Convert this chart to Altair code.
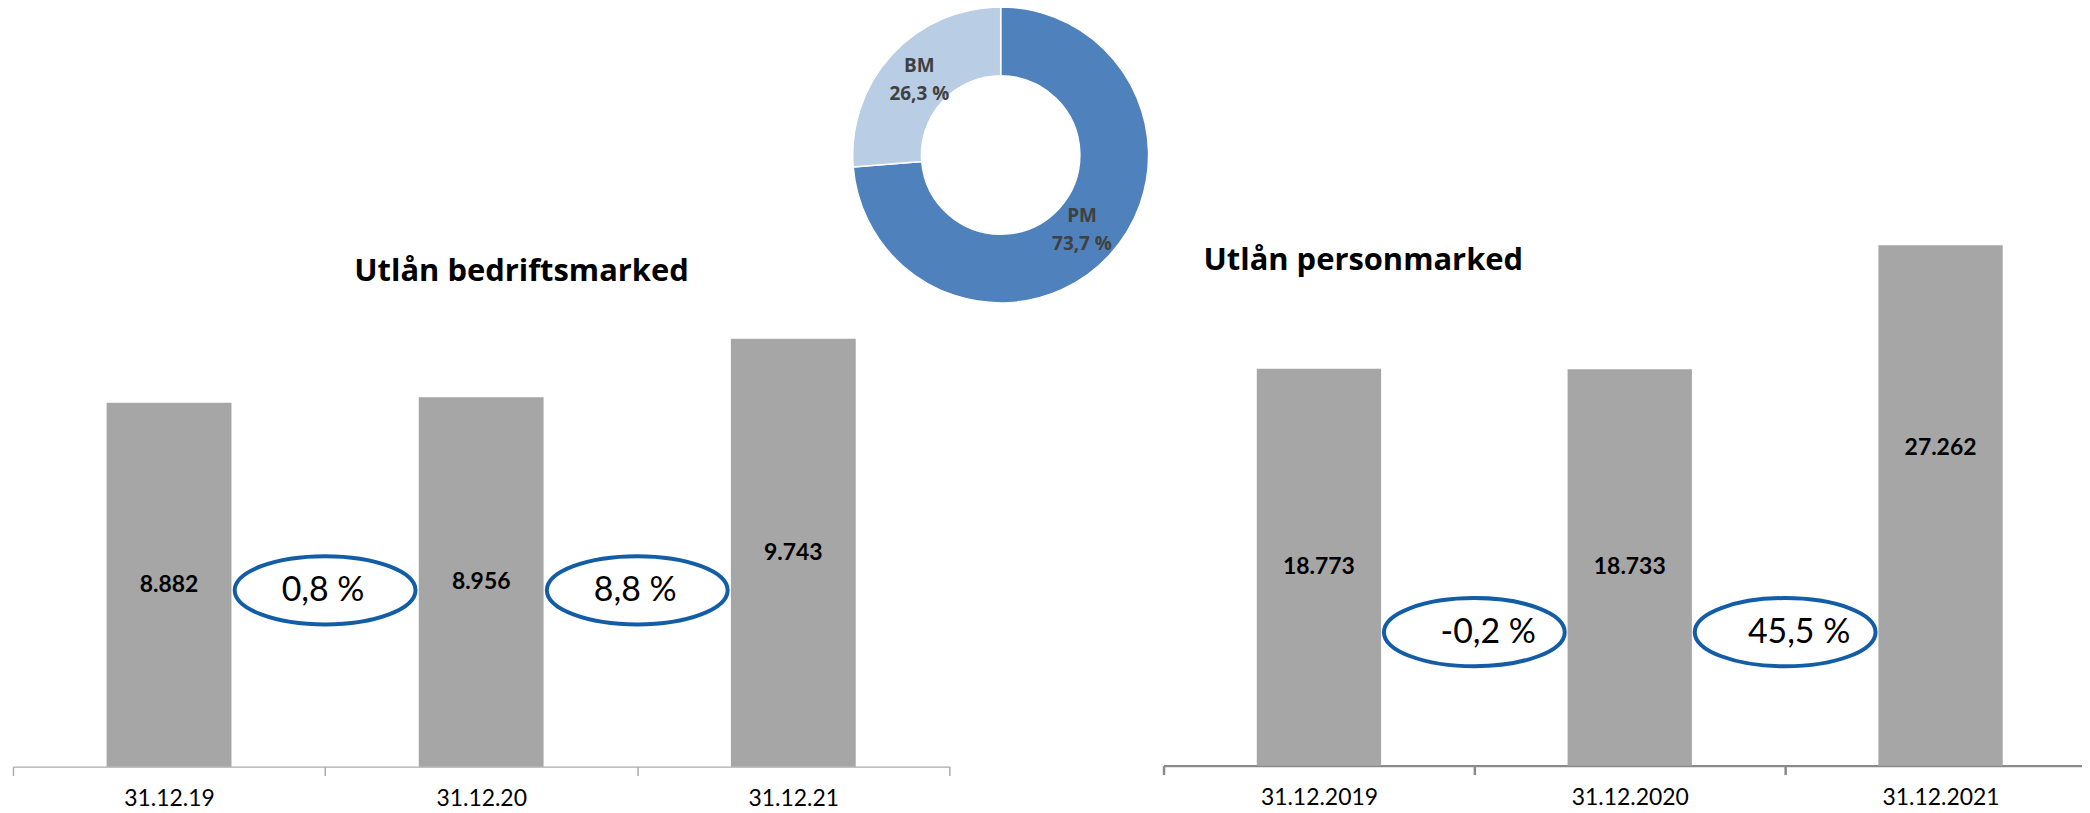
import altair as alt
import pandas as pd

# ---------------- data ----------------
bm_dates = ["31.12.19", "31.12.20", "31.12.21"]
bm_values = [8882, 8956, 9743]
bm_labels = ["8.882", "8.956", "9.743"]
bm_change = ["0,8 %", "8,8 %"]

pm_dates = ["31.12.2019", "31.12.2020", "31.12.2021"]
pm_values = [18773, 18733, 27262]
pm_labels = ["18.773", "18.733", "27.262"]
pm_change = ["-0,2 %", "45,5 %"]

share_names = ["PM", "BM"]
share_values = [73.7, 26.3]
share_labels = ["PM\n73,7 %", "BM\n26,3 %"]

titles = ["Utlån bedriftsmarked", "Utlån personmarked"]

# ---------------- style / layout ----------------
W, H = 2082, 805
BAR = "#A6A6A6"
BLUE = "#135DA6"
PM_C = "#4F81BD"
BM_C = "#B9CDE5"
ELLIPSE = "M -1 0 A 1 0.377 0 1 1 1 0 A 1 0.377 0 1 1 -1 0 Z"
ELL_SIZE = 181.5 ** 2


def panel(dates, values, labels, changes, x_range, y_domain, y_range,
          axis_off, dom_color, dom_width, tick_size, ell_y, txt_dx, shifts):
    df = pd.DataFrame({"date": dates, "value": values, "label": labels,
                       "idx": list(range(len(dates)))})
    cf = pd.DataFrame({"date": dates[:-1], "change": changes})
    xscale = alt.Scale(domain=dates, range=x_range, paddingInner=0, paddingOuter=0)
    xaxis = alt.Axis(title=None, orient="bottom", offset=axis_off, labelAngle=0,
                     tickBand="extent", domainColor=dom_color, domainWidth=dom_width,
                     tickColor=dom_color, tickWidth=dom_width, tickSize=tick_size,
                     labelFont="Lato", labelFontSize=23, labelColor="#000000",
                     labelBaseline="alphabetic", labelPadding=30,
                     grid=False)
    X = alt.X("date:N", scale=xscale, axis=xaxis)
    Xb = alt.X("date:N", scale=xscale, axis=xaxis, bandPosition=1)
    yscale = alt.Scale(domain=y_domain, range=y_range, zero=False, nice=False)

    base = alt.Chart(df)
    bars = base.mark_bar(color=BAR, width={"band": 0.4}).encode(
        x=X,
        y=alt.Y("value:Q", scale=yscale, axis=None),
        y2=alt.datum(y_domain[0]),
    )
    layers = [bars]
    shift_idx = list(shifts.keys())
    cond = " && ".join([f"datum.idx != {i}" for i in shift_idx]) or "true"
    lab = base.transform_calculate(mid=f"(datum.value + {y_domain[0]}) / 2").transform_filter(cond).mark_text(
        font="Lato", fontWeight="bold", fontSize=23, color="#000000", baseline="middle"
    ).encode(x=X, y=alt.Y("mid:Q", scale=yscale, axis=None), text="label:N")
    layers.append(lab)
    for i, dy in shifts.items():
        layers.append(
            base.transform_calculate(mid=f"(datum.value + {y_domain[0]}) / 2")
            .transform_filter(f"datum.idx == {i}")
            .mark_text(font="Lato", fontWeight="bold", fontSize=23, color="#000000",
                       baseline="middle", dy=dy)
            .encode(x=X, y=alt.Y("mid:Q", scale=yscale, axis=None), text="label:N")
        )
    ell = alt.Chart(cf).mark_point(shape=ELLIPSE, size=ELL_SIZE, filled=False, color=BLUE,
                                   strokeWidth=4, opacity=1).encode(x=Xb, y=alt.value(ell_y))
    etext = alt.Chart(cf).mark_text(font="Lato", fontSize=34, color="#000000", dx=txt_dx,
                                    baseline="middle").encode(x=Xb, y=alt.value(ell_y + 1),
                                                              text="change:N")
    layers += [ell, etext]
    return alt.layer(*layers)


left = panel(bm_dates, bm_values, bm_labels, bm_change,
             x_range=[5, 945], y_domain=[4000, 10000], y_range=[760, 311.2],
             axis_off=760 - H, dom_color="#ABABAB", dom_width=1.5, tick_size=9,
             ell_y=583, txt_dx=-2, shifts={})

right = panel(pm_dates, pm_values, pm_labels, pm_change,
              x_range=[1160, 2096], y_domain=[-8500, 30000], y_range=[759, 196.6],
              axis_off=759 - H, dom_color="#8A8A8A", dom_width=2.5, tick_size=9,
              ell_y=625, txt_dx=14, shifts={2: -58})

# donut
CX, CY = 996.5, 146
ddf = pd.DataFrame({"name": share_names, "share": share_values,
                    "label": share_labels, "idx": [0, 1]})
dbase = alt.Chart(ddf).encode(
    theta=alt.Theta("share:Q", stack=True),
    order=alt.Order("idx:Q"),
    x=alt.value(CX), y=alt.value(CY),
)
arc = dbase.mark_arc(innerRadius=79.5, outerRadius=148.5, stroke="white", strokeWidth=1.5).encode(
    color=alt.Color("name:N", scale=alt.Scale(domain=share_names, range=[PM_C, BM_C]), legend=None)
)
dtext = dbase.mark_text(radius=111, font="Open Sans", fontWeight="bold", fontSize=19, lineBreak="\n",
                        lineHeight=28, baseline="middle", align="center", dy=-14,
                        color="#404040").encode(
    text="label:N", detail="name:N"
)
donut = alt.layer(arc, dtext)

t1 = alt.Chart(pd.DataFrame({"t": [titles[0]]})).mark_text(
    font="Open Sans", fontWeight="bold", fontSize=31, color="#000000", baseline="middle"
).encode(text="t:N", x=alt.value(515.5), y=alt.value(263))
t2 = alt.Chart(pd.DataFrame({"t": [titles[1]]})).mark_text(
    font="Open Sans", fontWeight="bold", fontSize=31, color="#000000", baseline="middle"
).encode(text="t:N", x=alt.value(1360.5), y=alt.value(252))

chart = alt.layer(left, right, donut, t1, t2).resolve_scale(
    x="independent", y="independent"
).properties(
    width=W, height=H, padding=0, autosize=alt.AutoSizeParams(type="none"),
    background="white"
).configure_view(strokeWidth=0)

chart.save("out.html", embed_options={"renderer": "svg", "actions": False})
